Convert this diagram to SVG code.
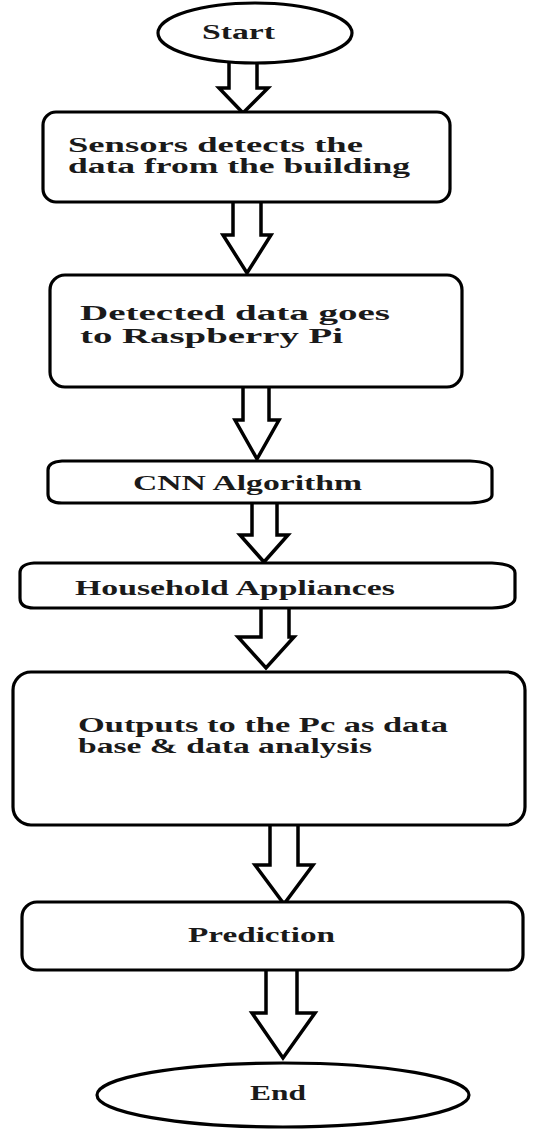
<svg xmlns="http://www.w3.org/2000/svg" width="544" height="1130" viewBox="0 0 544 1130">
<style>
.shape{fill:#fff;stroke:#000;stroke-width:3.2}
.arr{fill:#fff;stroke:#000;stroke-width:3.5;stroke-linejoin:miter}
.t{font-family:"Liberation Serif","Times New Roman",serif;font-weight:bold;font-size:20px;fill:#1a1a1a}
</style>
<rect width="544" height="1130" fill="#fff"/>
<g id="connectors">
<path class="arr" d="M229,63 V88 H219 L243,113 L268,88 H257 V63"/>
<path class="arr" d="M233,202 V235 H223 L247,273 L271,235 H261 V202"/>
<path class="arr" d="M243,387 V420 H235 L257,459 L279,420 H269 V387"/>
<path class="arr" d="M252,504 V535 H240 L264,562 L288,535 H277 V504"/>
<path class="arr" d="M261,608 V637 H238 L266,668 L294,637 H289 V608"/>
<path class="arr" d="M270,825 V865 H255 L284,904 L313,865 H298 V825"/>
<path class="arr" d="M266,970 V1013 H252 L283,1058 L315,1013 H297 V970"/>
</g>
<g id="start">
<ellipse class="shape" cx="255" cy="33" rx="97" ry="30"/>
<text class="t" x="202" y="39" textLength="73" lengthAdjust="spacingAndGlyphs">Start</text>
</g>
<g id="sensors">
<rect class="shape" x="43" y="112" width="407" height="90" rx="13"/>
<text class="t" x="68" y="152" textLength="295" lengthAdjust="spacingAndGlyphs">Sensors detects the</text>
<text class="t" x="68" y="173" textLength="342" lengthAdjust="spacingAndGlyphs">data from the building</text>
</g>
<g id="raspberry">
<rect class="shape" x="50" y="275" width="412" height="112" rx="15"/>
<text class="t" x="80" y="320" textLength="310" lengthAdjust="spacingAndGlyphs">Detected data goes</text>
<text class="t" x="80" y="343" textLength="263" lengthAdjust="spacingAndGlyphs">to Raspberry Pi</text>
</g>
<g id="cnn">
<path class="shape" d="M62,461 L470,461 Q492,462 492,470 L492,495 Q492,502 470,503 L62,503 Q48,503 48,494 L48,470 Q48,462 62,461 Z"/>
<text class="t" x="133" y="490" textLength="229" lengthAdjust="spacingAndGlyphs">CNN Algorithm</text>
</g>
<g id="household">
<path class="shape" d="M34,563 L492,563 Q515,564 515,573 L515,598 Q515,607 492,608 L34,608 Q20,608 20,598 L20,573 Q20,564 34,563 Z"/>
<text class="t" x="75" y="595" textLength="320" lengthAdjust="spacingAndGlyphs">Household Appliances</text>
</g>
<g id="outputs">
<rect class="shape" x="13" y="672" width="512" height="153" rx="18"/>
<text class="t" x="78" y="732" textLength="370" lengthAdjust="spacingAndGlyphs">Outputs to the Pc as data</text>
<text class="t" x="78" y="753" textLength="294" lengthAdjust="spacingAndGlyphs">base &amp; data analysis</text>
</g>
<g id="prediction">
<rect class="shape" x="22" y="902" width="501" height="68" rx="15"/>
<text class="t" x="188" y="942" textLength="147" lengthAdjust="spacingAndGlyphs">Prediction</text>
</g>
<g id="end">
<ellipse class="shape" cx="283" cy="1095" rx="186" ry="32"/>
<text class="t" x="250" y="1100" textLength="56" lengthAdjust="spacingAndGlyphs">End</text>
</g>
</svg>
